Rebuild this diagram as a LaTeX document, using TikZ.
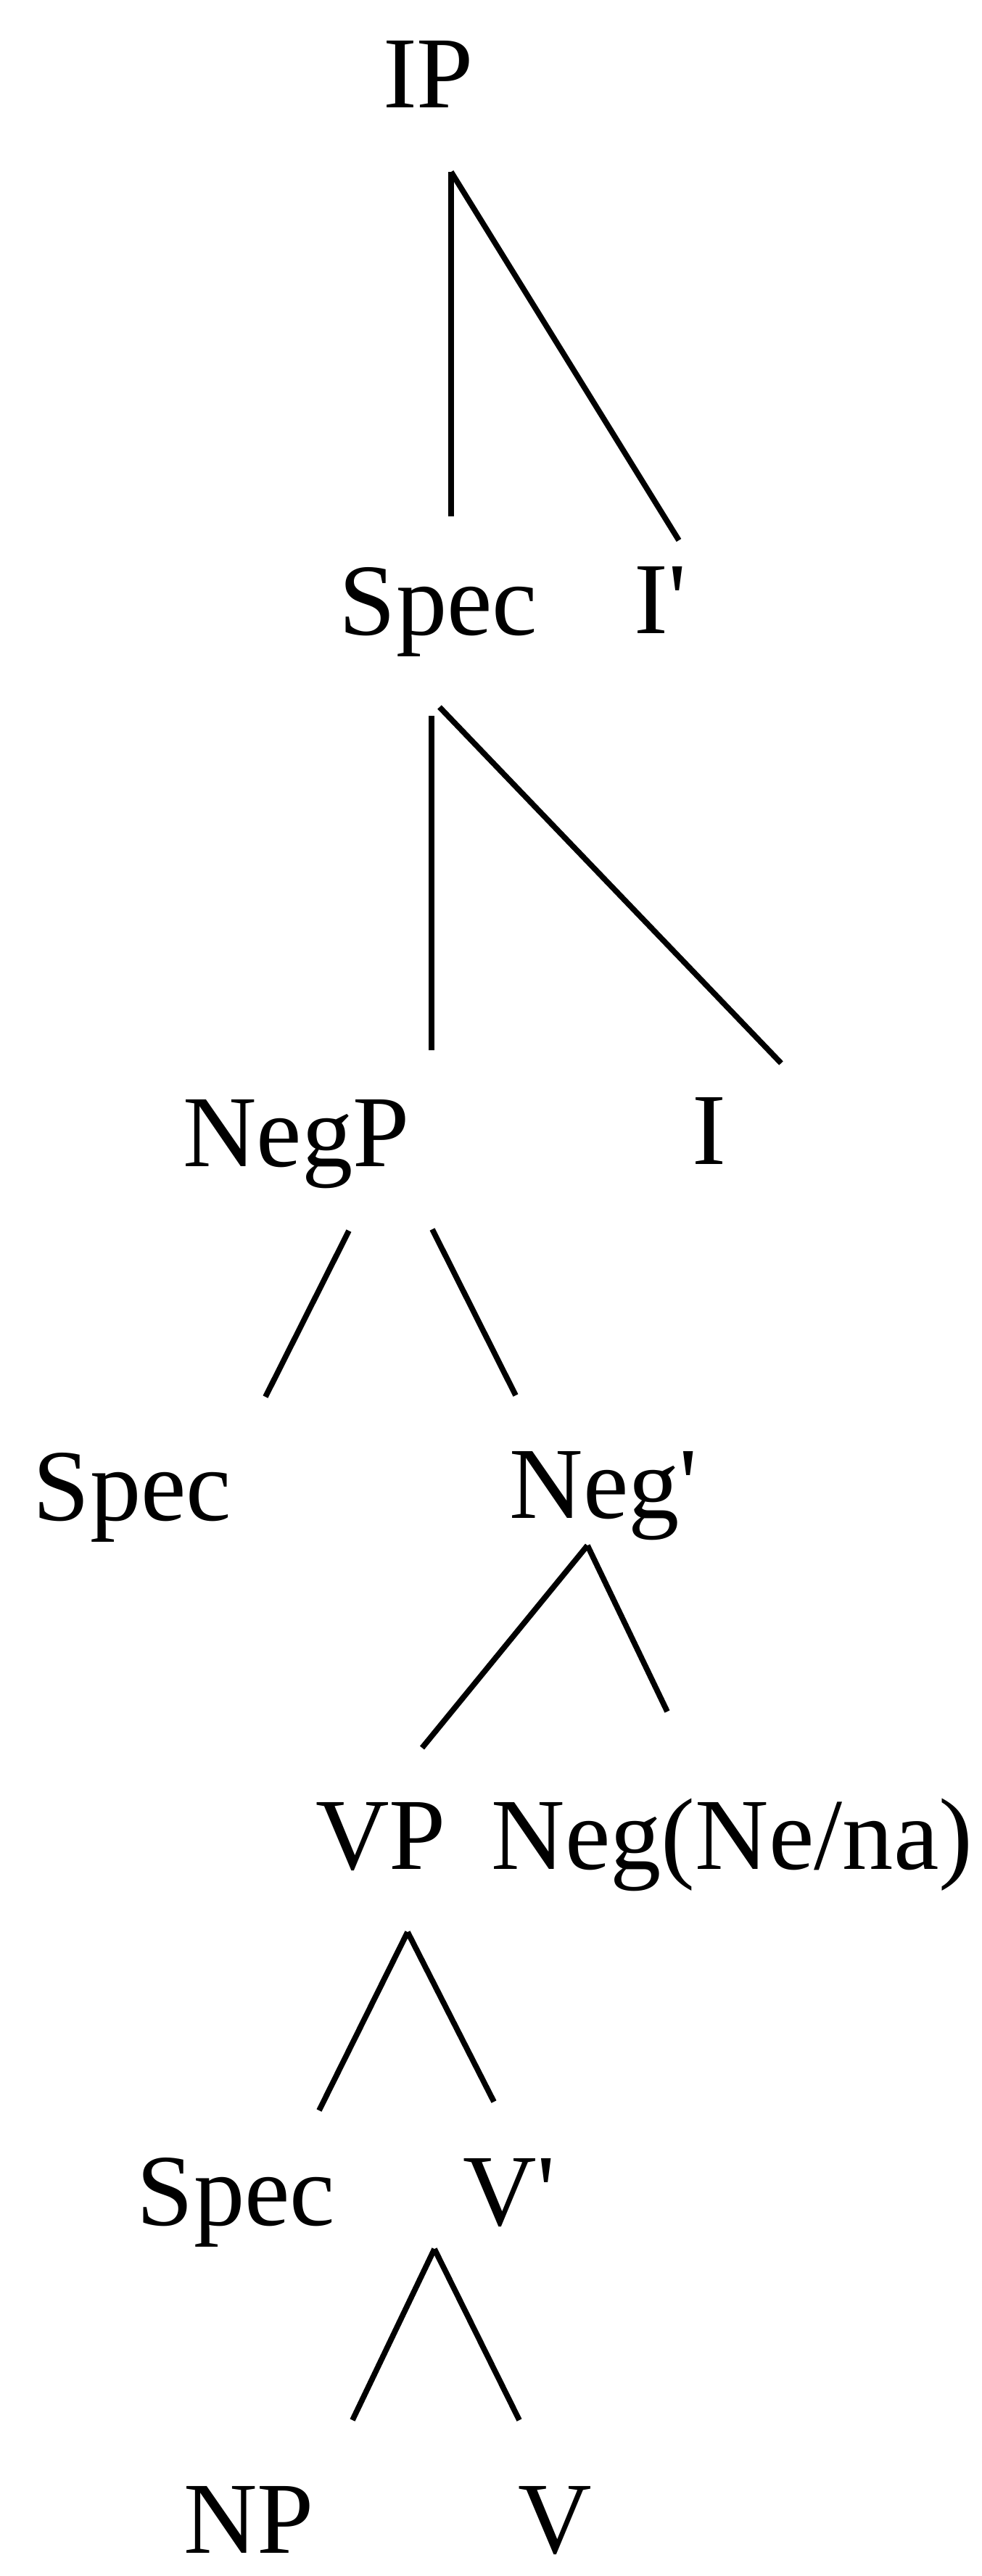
\documentclass[tikz,border=0pt]{standalone}
\usepackage{fontspec}
\setmainfont{Liberation Serif}
\begin{document}
\begin{tikzpicture}[
  cat/.style={inner sep=0pt, anchor=base, font=\fontsize{40}{48}\selectfont},
  branch/.style={line width=2.2pt}
]

\useasboundingbox (0,0) rectangle (13.54,-35.52);

\node[cat] (ip) at (5.905,-1.48) {IP};

\node[cat] (spec1) at (6.045,-8.75) {Spec};

\node[cat] (ibar) at (9.11,-8.73) {I\textquotesingle};

\node[cat] (negp) at (4.085,-16.08) {NegP};

\node[cat] (infl) at (9.78,-16.05) {I};

\node[cat] (spec2) at (1.825,-20.96) {Spec};

\node[cat] (negbar) at (8.325,-20.93) {Neg\textquotesingle};

\node[cat] (vp) at (5.25,-25.77) {VP};

\node[cat] (neg) at (10.095,-25.77) {Neg(Ne/na)};

\node[cat] (spec3) at (3.255,-30.68) {Spec};

\node[cat] (vbar) at (7.02,-30.68) {V\textquotesingle};

\node[cat] (np) at (3.43,-35.20) {NP};

\node[cat] (v) at (7.65,-35.20) {V};

\draw[branch] ([shift={(0.315,-0.89)}]ip.base) -- ([shift={(0.175,1.63)}]spec1.base);
\draw[branch] ([shift={(0.315,-0.89)}]ip.base) -- ([shift={(0.25,1.28)}]ibar.base);
\draw[branch] ([shift={(-0.095,-1.12)}]spec1.base) -- ([shift={(1.865,1.60)}]negp.base);
\draw[branch] ([shift={(0.015,-1.00)}]spec1.base) -- ([shift={(0.99,1.39)}]infl.base);
\draw[branch] ([shift={(0.725,-0.89)}]negp.base) -- ([shift={(1.835,1.70)}]spec2.base);
\draw[branch] ([shift={(1.875,-0.87)}]negp.base) -- ([shift={(-1.215,1.69)}]negbar.base);
\draw[branch] ([shift={(-0.225,-0.38)}]negbar.base) -- ([shift={(0.57,1.67)}]vp.base);
\draw[branch] ([shift={(-0.225,-0.38)}]negbar.base) -- ([shift={(-0.895,2.17)}]neg.base);
\draw[branch] ([shift={(0.37,-0.87)}]vp.base) -- ([shift={(1.145,1.58)}]spec3.base);
\draw[branch] ([shift={(0.37,-0.87)}]vp.base) -- ([shift={(-0.21,1.70)}]vbar.base);
\draw[branch] ([shift={(-1.03,-0.33)}]vbar.base) -- ([shift={(1.43,1.83)}]np.base);
\draw[branch] ([shift={(-1.03,-0.33)}]vbar.base) -- ([shift={(-0.49,1.83)}]v.base);

\end{tikzpicture}
\end{document}
